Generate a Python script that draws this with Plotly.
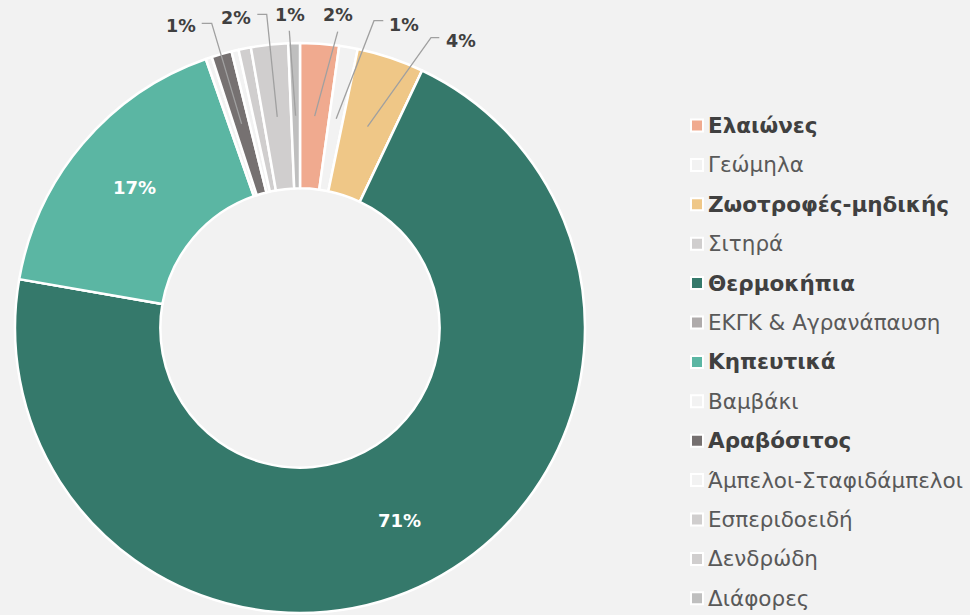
import math
import plotly.graph_objects as go

# ---------------- data ----------------
labels = ["Ελαιώνες", "Γεώμηλα", "Ζωοτροφές-μηδικής", "Σιτηρά", "Θερμοκήπια",
          "ΕΚΓΚ & Αγρανάπαυση", "Κηπευτικά", "Βαμβάκι", "Αραβόσιτος",
          "Άμπελοι-Σταφιδάμπελοι", "Εσπεριδοειδή", "Δενδρώδη", "Διάφορες"]
values = [2.2, 1.05, 3.8, 0, 70.7, 0, 16.9, 0.35, 1.15, 0.4, 0.7, 2.1, 0.66]
colors = ["#F0AA8F", "#F2F2F2", "#EFC787", "#D0CECE", "#35796B", "#AFABAB",
          "#5BB6A3", "#F2F2F2", "#767171", "#F2F2F2", "#D0CECE", "#D0CECE", "#BFBFBF"]
legend_bold = [True, False, True, False, True, False, True, False, True,
               False, False, False, False]
label_mode = ["out", "out", "out", "none", "in", "none", "in", "none", "out",
              "none", "none", "out", "out"]

# ---------------- layout helpers ----------------
W, H = 970, 615
CX, CY, R = 300, 328, 285
HOLE = 0.49
BG = "#F2F2F2"


def px(x):
    return x / W


def py(y):
    return 1 - y / H


total = sum(values)
cum = 0
mid_angles = []
for v in values:
    mid_angles.append((cum + v / 2) / total * 360)
    cum += v


def polar(angle_deg, r):
    a = math.radians(angle_deg)
    return CX + r * math.sin(a), CY - r * math.cos(a)


fig = go.Figure(go.Pie(
    labels=labels, values=values, sort=False, direction="clockwise", rotation=0,
    hole=HOLE, marker=dict(colors=colors, line=dict(color="white", width=2.5)),
    textinfo="none", hoverinfo="label+percent", showlegend=False,
    domain=dict(x=[px(CX - R), px(CX + R)], y=[py(CY + R), py(CY - R)]),
))

annotations = []
shapes = []
r_mid = R * (1 + HOLE) / 2
r_in_label = R * 0.76

# outside label placement (text centre, elbow start, elbow end)
out_place = {
    0: ((338, 15), None, (337.7, 31.7)),
    1: ((404, 25), (383.3, 20.7), (374, 20.7)),
    2: ((461, 41), (439.3, 37.7), (431, 37.7)),
    8: ((181, 26), (201.7, 23.3), (211.7, 23.3)),
    11: ((236, 18), (257.3, 14.3), (266.7, 14.3)),
    12: ((290, 15), None, (289.3, 30.7)),
}

LABEL_FONT = "DejaVu Sans"
for i, v in enumerate(values):
    pct = f"{round(v / total * 100)}%"
    if label_mode[i] == "in":
        x, y = polar(mid_angles[i], r_in_label)
        annotations.append(dict(x=px(x), y=py(y), xref="paper", yref="paper",
                                xanchor="center", yanchor="middle",
                                text=f"<b>{pct}</b>", showarrow=False,
                                font=dict(family=LABEL_FONT, size=18, color="white")))
    elif label_mode[i] == "out":
        (tx, ty), h0, h1 = out_place[i]
        annotations.append(dict(x=px(tx), y=py(ty), xref="paper", yref="paper",
                                xanchor="center", yanchor="middle",
                                text=f"<b>{pct}</b>", showarrow=False,
                                font=dict(family=LABEL_FONT, size=17.5, color="#404040")))
        ex, ey = polar(mid_angles[i], r_mid)
        pts = ([h0] if h0 else []) + [h1, (ex, ey)]
        path = "M " + " L ".join(f"{px(a):.5f},{py(b):.5f}" for a, b in pts)
        shapes.append(dict(type="path", path=path, xref="paper", yref="paper",
                           line=dict(color="#A0A0A0", width=1.3)))

# custom legend
LEG_Y0, LEG_DY = 125.5, 39.4
for i, lab in enumerate(labels):
    yc = LEG_Y0 + LEG_DY * i
    shapes.append(dict(type="rect", xref="paper", yref="paper",
                       x0=px(691), x1=px(703), y0=py(yc + 6), y1=py(yc - 6),
                       fillcolor=colors[i], line=dict(color="white", width=2)))
    txt = f"<b>{lab}</b>" if legend_bold[i] else lab
    annotations.append(dict(x=px(706), y=py(yc), xref="paper", yref="paper",
                            xanchor="left", yanchor="middle", text=txt, showarrow=False,
                            font=dict(family="DejaVu Sans", size=21.5,
                                      color="#404040" if legend_bold[i] else "#595959")))

fig.update_layout(
    width=W, height=H, margin=dict(l=0, r=0, t=0, b=0),
    paper_bgcolor=BG, plot_bgcolor=BG,
    annotations=annotations, shapes=shapes,
)

fig.write_html("out.html", config={"displayModeBar": False},
               post_script="document.body.style.margin='0px';document.body.style.background='#F2F2F2';")
